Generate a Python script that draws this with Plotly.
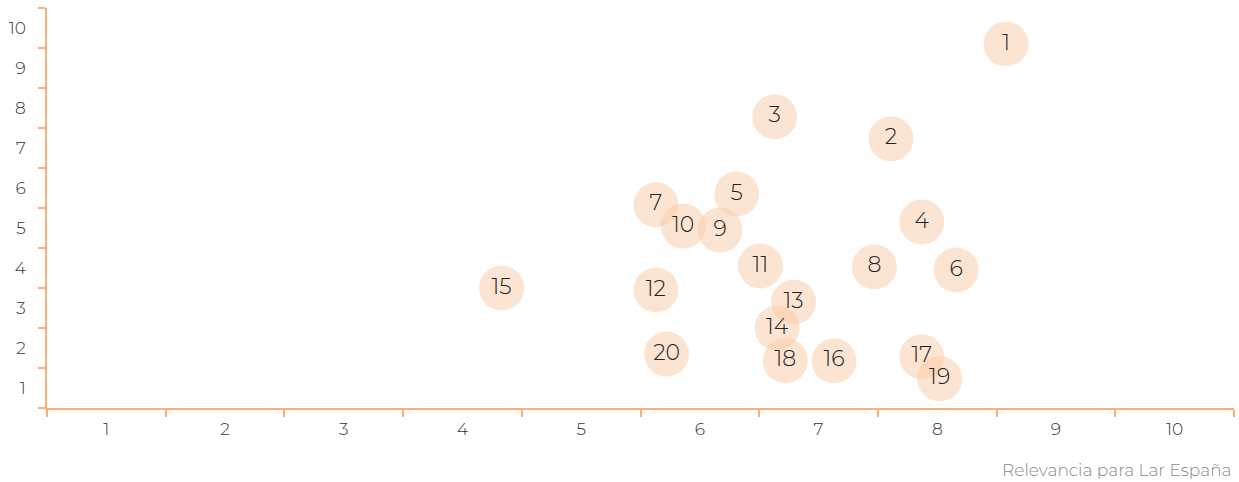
import plotly.graph_objects as go

# Bubble ids and positions (x: relevance for Lar España, y: relevance for stakeholders)
ids = [str(i) for i in range(1, 21)]
x_vals = [8.58, 7.61, 6.63, 7.87, 6.31, 8.16, 5.63, 7.47, 6.17, 5.86,
          6.51, 5.63, 6.79, 6.65, 4.33, 7.13, 7.87, 6.72, 8.02, 5.72]
y_vals = [9.60, 7.23, 7.78, 5.15, 5.85, 3.95, 5.58, 4.03, 4.95, 5.05,
          4.05, 3.45, 3.15, 2.50, 3.50, 1.68, 1.78, 1.68, 1.23, 1.85]

tick_vals = list(range(1, 11))
tick_text = [str(v) for v in tick_vals]

axis_color = "#FAAE78"
font_family = "Montserrat, 'Open Sans', 'Noto Sans', sans-serif"

fig = go.Figure()
fig.add_trace(go.Scatter(x=x_vals, y=y_vals, text=ids,
                         mode='markers+text',
                         textposition='middle center',
                         textfont=dict(size=22, color='#222222', family=font_family, weight=300),
                         marker=dict(size=45, color='rgba(249,201,165,0.5)',
                                     line=dict(width=0)),
                         hoverinfo='skip',
                         showlegend=False))

axis_common = dict(range=[0.5, 10.5], tickvals=tick_vals, ticktext=tick_text,
                   showgrid=False, zeroline=False, showline=True,
                   linecolor=axis_color, linewidth=1.5,
                   ticks='', tickfont=dict(size=17, color='#333333', family=font_family, weight=300),
                   minor=dict(ticks='outside', tick0=0.5, dtick=1, ticklen=7,
                              tickcolor=axis_color, tickwidth=1.5, showgrid=False))

fig.update_xaxes(**axis_common, ticklabelstandoff=5)
fig.update_yaxes(**axis_common, ticklabelstandoff=16)

fig.add_annotation(text='Relevancia para Lar España', xref='paper', yref='paper',
                   x=1, y=-0.155, xanchor='right', yanchor='middle', showarrow=False,
                   font=dict(size=17, color='#8a8a8a', family=font_family, weight=300))

fig.update_layout(width=1239, height=482,
                  margin=dict(l=47, r=5, t=8, b=74),
                  plot_bgcolor='white', paper_bgcolor='white')

fig.write_html("out.html", config={'displayModeBar': False},
               post_script="document.body.style.margin='0';document.body.style.overflow='hidden';")
